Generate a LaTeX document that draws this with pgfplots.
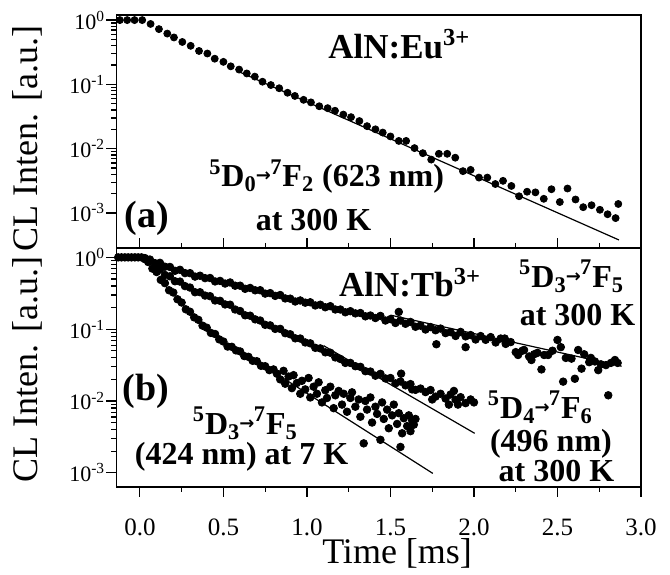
\documentclass[border=0pt]{standalone}
\usepackage{pgfplots}
\pgfplotsset{compat=1.18}
\usepackage{fontspec}
\setmainfont{Liberation Serif}
\newfontfamily\dejavu{DejaVu Sans}
\newcommand{\arr}{\raisebox{0.15em}{\dejavu\bfseries\fontsize{9}{9}\selectfont →}}
\newcommand{\tr}[4]{\textsuperscript{#1}D\textsubscript{#2}\kern-0.03em\arr\kern-0.02em\textsuperscript{#3}F\textsubscript{#4}}
\newcommand{\annA}{\bfseries\fontsize{17.5}{17.5}\selectfont}
\newcommand{\annB}{\bfseries\fontsize{16}{16}\selectfont}
\newcommand{\ylab}[1]{10\textsuperscript{#1}}
\pgfplotsset{
  dots/.style={only marks, mark=*, mark size=1.75pt, black},
  fit/.style={black, line width=0.6pt, no markers},
}
\tikzset{ytl/.style={anchor=east, inner sep=0pt, xshift=-5.5pt, font=\fontsize{11}{11}\selectfont}}
\begin{document}
\begin{tikzpicture}
\begin{axis}[name=top,
  scale only axis, width=262.25pt, height=116.5pt,
  xmin=-0.14, xmax=3.0,
  ymode=log, ymin=2.85e-4, ymax=1.2,
  clip mode=individual,
  axis line style={line width=0.9pt},
  tick align=outside,
  ytick pos=left,
  xtick=\empty,
  major tick length=5pt, minor tick length=2.6pt,
  tick style={black, line width=0.6pt},
  ytick={1e-3,1e-2,1e-1,1},
  yticklabels={},
]
\addplot[fit] coordinates {(0.6,0.1545) (2.868,3.8e-4)};
\addplot[dots] coordinates {
(-0.12,1.0) (-0.076,1.0) (-0.032,1.0) (0.014,1.0)
(0.064,0.871) (0.114,0.724) (0.164,0.617) (0.204,0.537) (0.254,0.457)
(0.304,0.398) (0.354,0.331) (0.404,0.302) (0.448,0.251) (0.50,0.224)
(0.544,0.191) (0.594,0.170) (0.64,0.148) (0.688,0.132) (0.734,0.110)
(0.784,0.0977) (0.834,0.0871) (0.884,0.0741) (0.928,0.0661) (0.98,0.0575)
(1.024,0.0525) (1.074,0.0457) (1.124,0.0427) (1.168,0.0389) (1.218,0.0339)
(1.264,0.0309) (1.314,0.0269) (1.36,0.0224) (1.41,0.0200) (1.454,0.0178)
(1.50,0.0155) (1.55,0.0132) (1.594,0.0132) (1.644,0.0102) (1.694,0.00851)
(1.744,0.00676) (1.79,0.00832) (1.84,0.00832) (1.888,0.00724) (1.934,0.00447)
(1.98,0.00468) (2.03,0.00355) (2.08,0.00355) (2.128,0.00282) (2.174,0.00316)
(2.224,0.00263) (2.27,0.00182) (2.318,0.00214) (2.368,0.00209) (2.418,0.00166)
(2.464,0.00234) (2.514,0.00148) (2.56,0.00240) (2.608,0.00162) (2.654,0.00123)
(2.704,0.00132) (2.754,0.00112) (2.80,0.000955) (2.848,0.000832) (2.864,0.00138)
};
\node[anchor=base west, inner sep=0pt] at (axis cs:1.126,0.257) {\annA AlN:Eu\textsuperscript{3+}};
\node[anchor=base west, inner sep=0pt] at (axis cs:-0.095,6.0e-4) {\bfseries\fontsize{19}{19}\selectfont (a)};
\node[anchor=base west, inner sep=0pt] at (axis cs:0.413,2.57e-3) {\annB \tr{5}{0}{7}{2} (623 nm)};
\node[anchor=base, inner sep=0pt] at (axis cs:1.04,5.37e-4) {\annB at 300 K};
\node[ytl] at (axis cs:-0.14,1) {\ylab{0}};
\node[ytl] at (axis cs:-0.14,0.1) {\ylab{-1}};
\node[ytl] at (axis cs:-0.14,0.01) {\ylab{-2}};
\node[ytl] at (axis cs:-0.14,0.001) {\ylab{-3}};
\node[rotate=90, anchor=center, inner sep=0pt, font=\fontsize{18}{18}\selectfont] at (axis description cs:-0.17,0.47) {CL Inten. [a.u.]};
\end{axis}

\begin{axis}[name=bot, at={(top.south west)}, anchor=north west,
  scale only axis, width=262.25pt, height=119.35pt,
  xmin=-0.14, xmax=3.0,
  ymode=log, ymin=6.4e-4, ymax=1.35,
  clip mode=individual,
  axis line style={line width=0.9pt},
  tick align=outside,
  ytick pos=left,
  major tick length=5pt, minor tick length=2.6pt,
  tick style={black, line width=0.6pt},
  ytick={1e-3,1e-2,1e-1,1},
  yticklabels={},
  xtick={0,0.5,1,1.5,2,2.5,3}, minor x tick num=1,
  xticklabels={0.0,0.5,1.0,1.5,2.0,2.5,3.0},
  xtick pos=both, xticklabel pos=lower,
  xticklabel style={font=\fontsize{12.5}{12.5}\selectfont, anchor=base, inner sep=0pt, yshift=-19.5pt},
]
\addplot[fit] coordinates {(1.5,0.157) (2.884,0.0305)};
\addplot[fit] coordinates {(1.1,0.0589) (2.004,0.00355)};
\addplot[fit] coordinates {(0.6,0.0501) (1.754,9.8e-4)};
\addplot[dots, mark size=1.9pt] coordinates {
(-0.13,1) (-0.11,1) (-0.09,1) (-0.07,1) (-0.05,1) (-0.03,1) (-0.01,1) (0.01,1)
};
\addplot[dots, mark size=1.9pt] coordinates {
(0.03,0.977) (0.06,0.933) (0.09,0.832) (0.12,0.839) (0.15,0.741) (0.18,0.735)
(0.21,0.650) (0.24,0.671) (0.27,0.604) (0.30,0.603) (0.33,0.540) (0.36,0.555)
(0.39,0.514) (0.42,0.516) (0.45,0.462) (0.48,0.470) (0.51,0.432) (0.54,0.447)
(0.57,0.403) (0.60,0.403) (0.63,0.365) (0.66,0.375) (0.69,0.348) (0.72,0.349)
(0.75,0.313) (0.78,0.318) (0.81,0.291) (0.84,0.299) (0.87,0.268) (0.90,0.266)
(0.93,0.243) (0.96,0.251) (0.99,0.234) (1.02,0.237) (1.05,0.214) (1.08,0.219)
(1.11,0.202) (1.14,0.209) (1.17,0.188) (1.20,0.188) (1.23,0.172) (1.26,0.178)
(1.29,0.166) (1.32,0.168) (1.35,0.151) (1.38,0.155) (1.41,0.143) (1.44,0.153)
(1.47,0.132) (1.50,0.138) (1.53,0.122) (1.56,0.132) (1.59,0.119) (1.62,0.126)
(1.65,0.108) (1.68,0.112) (1.71,0.0989) (1.74,0.107) (1.77,0.0966) (1.80,0.102)
(1.83,0.0881) (1.86,0.0912) (1.89,0.0804) (1.92,0.0916) (1.95,0.0794) (1.98,0.0828)
(2.01,0.0718) (2.04,0.0802) (2.07,0.0711) (2.10,0.0776) (2.13,0.0653) (2.16,0.0741)
(2.19,0.0624)
(1.55,0.174) (1.775,0.0617) (1.95,0.0562)
(2.184,0.0741) (2.22,0.0661) (2.25,0.0479) (2.264,0.0437) (2.29,0.0501) (2.30,0.0513)
(2.33,0.0417) (2.344,0.0372) (2.36,0.0447) (2.38,0.0468) (2.404,0.0275) (2.42,0.0437)
(2.444,0.0437) (2.47,0.0501) (2.50,0.0708) (2.52,0.0562) (2.534,0.0186) (2.55,0.0398)
(2.584,0.0389) (2.604,0.0204) (2.624,0.0513) (2.644,0.0282) (2.66,0.0447) (2.69,0.0347)
(2.70,0.0398) (2.724,0.0355) (2.744,0.0269) (2.76,0.0324) (2.79,0.0316) (2.804,0.0120)
(2.82,0.0339) (2.844,0.0372) (2.86,0.0339)
};
\addplot[dots, mark size=1.9pt] coordinates {
(0.03,0.966) (0.06,0.891) (0.09,0.728) (0.12,0.676) (0.15,0.569) (0.18,0.545)
(0.21,0.465) (0.24,0.460) (0.27,0.398) (0.30,0.380) (0.33,0.327) (0.36,0.327)
(0.39,0.294) (0.42,0.288) (0.45,0.251) (0.48,0.248) (0.51,0.221) (0.54,0.219)
(0.57,0.188) (0.60,0.179) (0.63,0.156) (0.66,0.154) (0.69,0.137) (0.72,0.132)
(0.75,0.115) (0.78,0.113) (0.81,0.101) (0.84,0.101) (0.87,0.0879) (0.90,0.0849)
(0.93,0.0746) (0.96,0.0741) (0.99,0.0653) (1.02,0.0635) (1.05,0.0550) (1.08,0.0540)
(1.11,0.0476) (1.14,0.0470) (1.17,0.0404) (1.20,0.0385) (1.23,0.0339) (1.26,0.0339)
(1.29,0.0305) (1.32,0.0299) (1.35,0.0260) (1.38,0.0257) (1.41,0.0225) (1.44,0.0239)
(1.47,0.0206) (1.50,0.0209) (1.53,0.0176) (1.56,0.0187) (1.59,0.0165) (1.62,0.0172)
(1.65,0.0143) (1.68,0.0149) (1.71,0.0133) (1.74,0.0142) (1.77,0.0115) (1.80,0.0126)
(1.83,0.0108) (1.86,0.0123) (1.89,0.0104) (1.92,0.0113) (1.95,0.00933) (1.98,0.0105)
(2.00,0.00955)
(1.564,0.024) (1.904,0.00891) (1.75,0.0105) (1.85,0.0089) (1.88,0.0138) (1.63,0.0145)
};
\addplot[dots, mark size=1.9pt] coordinates {
(0.03,0.944) (0.05,0.861) (0.075,0.697) (0.10,0.625) (0.125,0.486) (0.15,0.437)
(0.175,0.348) (0.20,0.324) (0.225,0.261) (0.25,0.235) (0.275,0.189) (0.30,0.175)
(0.325,0.146) (0.35,0.135) (0.375,0.112) (0.40,0.105) (0.425,0.0887) (0.45,0.0857)
(0.475,0.0721) (0.50,0.0673) (0.525,0.0573) (0.55,0.0568) (0.575,0.0507) (0.60,0.0490)
(0.625,0.0422) (0.65,0.0412) (0.675,0.0363) (0.70,0.0358) (0.725,0.0309) (0.75,0.0305)
(0.775,0.0269) (0.80,0.0275)
(0.82,0.0240) (0.84,0.0200) (0.86,0.0263) (0.87,0.0174) (0.89,0.0219) (0.91,0.0151)
(0.92,0.0229) (0.94,0.0178) (0.96,0.0126) (0.97,0.0191) (0.99,0.0145) (1.01,0.0209)
(1.02,0.0112) (1.04,0.0158) (1.06,0.0126) (1.07,0.0182) (1.09,0.00955) (1.11,0.0141)
(1.12,0.0110) (1.14,0.0158) (1.16,0.00794) (1.17,0.0120) (1.19,0.0138) (1.21,0.00891)
(1.22,0.0126) (1.24,0.00708) (1.26,0.0110) (1.27,0.0132) (1.29,0.00832) (1.31,0.0105)
(1.32,0.00603) (1.34,0.00257) (1.35,0.0100) (1.36,0.00759) (1.38,0.0112) (1.39,0.00501)
(1.41,0.00832) (1.42,0.00661) (1.44,0.00288) (1.45,0.00955) (1.46,0.00562) (1.48,0.00759)
(1.49,0.00417) (1.51,0.00631) (1.52,0.00891) (1.54,0.00479) (1.55,0.00676) (1.56,0.00229)
(1.57,0.00355) (1.58,0.00575) (1.60,0.00447) (1.61,0.00631) (1.62,0.00380) (1.63,0.00537)
(1.64,0.00468) (1.65,0.00562)
};
\node[anchor=base west, inner sep=0pt] at (axis cs:1.19,0.282) {\annA AlN:Tb\textsuperscript{3+}};
\node[anchor=base west, inner sep=0pt] at (axis cs:-0.105,0.0103) {\bfseries\fontsize{19}{19}\selectfont (b)};
\node[anchor=base, inner sep=0pt] at (axis cs:2.585,0.384) {\annB \tr{5}{3}{7}{5}};
\node[anchor=base, inner sep=0pt] at (axis cs:2.62,0.114) {\annB at 300 K};
\node[anchor=base, inner sep=0pt] at (axis cs:2.398,0.00575) {\annB \tr{5}{4}{7}{6}};
\node[anchor=base, inner sep=0pt] at (axis cs:2.461,0.00195) {\annB (496 nm)};
\node[anchor=base, inner sep=0pt] at (axis cs:2.494,7.5e-4) {\annB at 300 K};
\node[anchor=base, inner sep=0pt] at (axis cs:0.631,0.00345) {\annB \tr{5}{3}{7}{5}};
\node[anchor=base, inner sep=0pt] at (axis cs:0.609,0.00129) {\annB (424 nm) at 7 K};
\node[ytl] at (axis cs:-0.14,1) {\ylab{0}};
\node[ytl] at (axis cs:-0.14,0.1) {\ylab{-1}};
\node[ytl] at (axis cs:-0.14,0.01) {\ylab{-2}};
\node[ytl] at (axis cs:-0.14,0.001) {\ylab{-3}};
\node[rotate=90, anchor=center, inner sep=0pt, font=\fontsize{18}{18}\selectfont] at (axis description cs:-0.17,0.49) {CL Inten. [a.u.]};
\node[anchor=base, inner sep=0pt, font=\fontsize{18}{18}\selectfont] at (axis description cs:0.535,-0.322) {Time [ms]};
\end{axis}
\path (top.north west) ++(-58.25pt,7.5pt) rectangle ++(335pt,-287pt);
\end{tikzpicture}
\end{document}
